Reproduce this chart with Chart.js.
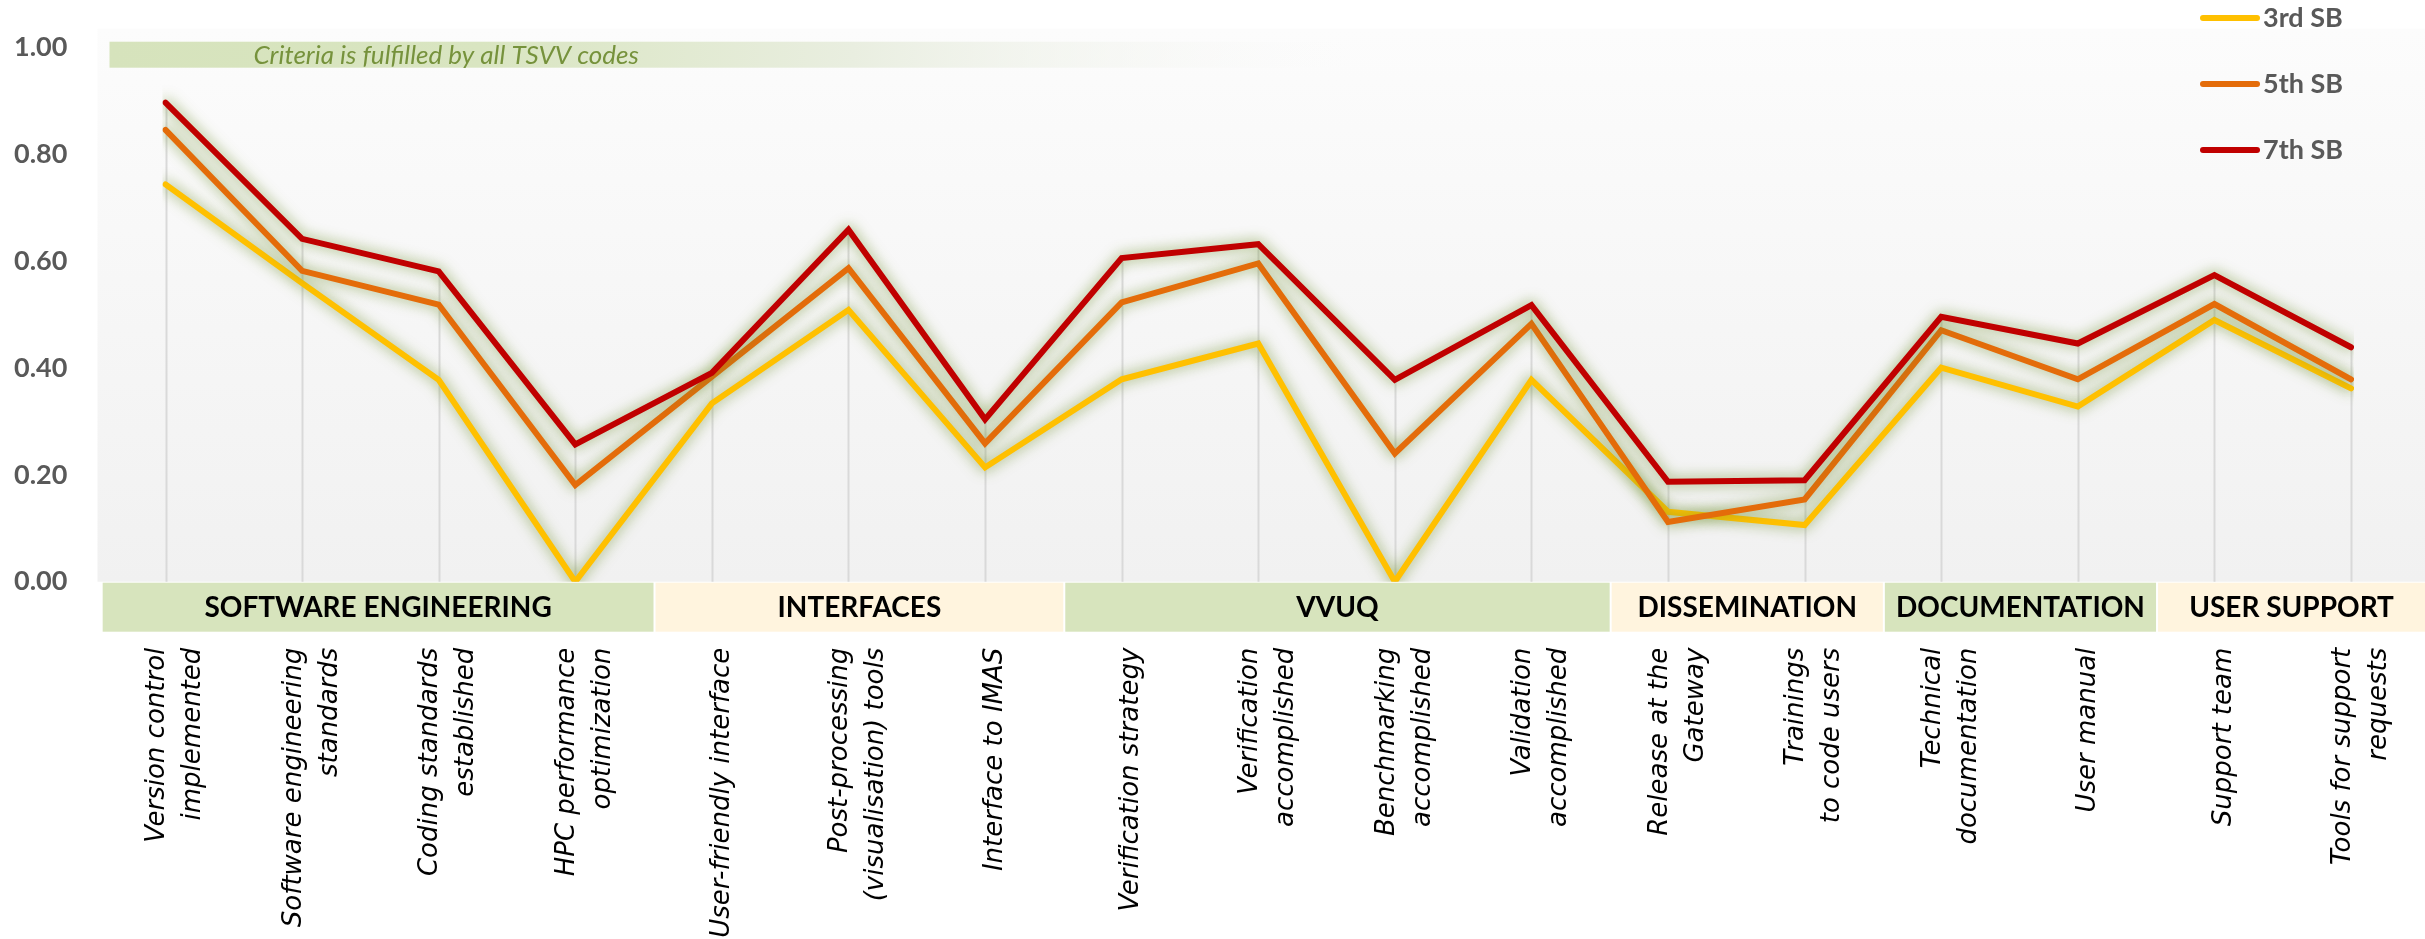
<!DOCTYPE html>
<html><head><meta charset="utf-8">
<script src="https://cdn.jsdelivr.net/npm/chart.js@4.4.1/dist/chart.umd.min.js"></script>
<style>html,body{margin:0;padding:0;background:#fff;}#wrap{width:2425px;height:939px;position:relative;}</style>
</head><body><div id="wrap"><canvas id="c" width="2425" height="939"></canvas></div>
<script>
// ---------- DATA ----------
const categories = [
  ["Version control", "implemented"],
  ["Software engineering", "standards"],
  ["Coding standards", "established"],
  ["HPC performance", "optimization"],
  ["User-friendly interface"],
  ["Post-processing", "(visualisation) tools"],
  ["Interface to IMAS"],
  ["Verification strategy"],
  ["Verification", "accomplished"],
  ["Benchmarking", "accomplished"],
  ["Validation", "accomplished"],
  ["Release at the", "Gateway"],
  ["Trainings", "to code users"],
  ["Technical", "documentation"],
  ["User manual"],
  ["Support team"],
  ["Tools for support", "requests"]
];
const groupNames = ["SOFTWARE ENGINEERING", "INTERFACES", "VVUQ", "DISSEMINATION", "DOCUMENTATION", "USER SUPPORT"];
const groupSizes = [4, 3, 4, 2, 2, 2];
const seriesNames = ["3rd SB", "5th SB", "7th SB"];
const sb3 = [0.744, 0.559, 0.378, 0.000, 0.334, 0.509, 0.214, 0.379, 0.446, 0.000, 0.378, 0.131, 0.106, 0.401, 0.328, 0.490, 0.362];
const sb5 = [0.846, 0.582, 0.519, 0.181, 0.384, 0.587, 0.259, 0.523, 0.596, 0.240, 0.483, 0.112, 0.154, 0.471, 0.379, 0.520, 0.379];
const sb7 = [0.897, 0.642, 0.581, 0.257, 0.391, 0.659, 0.304, 0.606, 0.632, 0.378, 0.518, 0.187, 0.190, 0.496, 0.446, 0.574, 0.439];
const yTickValues = [0, 0.2, 0.4, 0.6, 0.8, 1.0];
const bannerText = "Criteria is fulfilled by all TSVV codes";

// ---------- STYLE ----------
const colors = ["#ffc000", "#e46c0a", "#c00000"];
const bandColors = ["#d7e4bd", "#fff4de"];
const FONT_BOLD = "Lato, 'Liberation Sans', sans-serif";
const FONT_LABEL = "'DejaVu Sans', Verdana, sans-serif";

const bgPlugin = {
  id: 'bg',
  beforeDraw(chart) {
    const {ctx, chartArea: a} = chart;
    ctx.save();
    ctx.fillStyle = '#ffffff';
    ctx.fillRect(0, 0, chart.width, chart.height);
    const top = a.top - 19, left = a.left - 68;
    const g = ctx.createLinearGradient(0, top, 0, a.bottom);
    g.addColorStop(0, '#fcfcfc');
    g.addColorStop(1, '#f1f1f1');
    ctx.fillStyle = g;
    ctx.fillRect(left, top, chart.width - left, a.bottom - top);
    // banner
    const bx = a.left - 56, by = a.top - 6, bw = 1240, bh = 26;
    const bg = ctx.createLinearGradient(bx, 0, bx + bw, 0);
    bg.addColorStop(0, '#d6e3bc');
    bg.addColorStop(0.3, '#d9e5c1');
    bg.addColorStop(0.6, '#e9eee0');
    bg.addColorStop(1, 'rgba(248,248,248,0)');
    ctx.fillStyle = bg;
    ctx.fillRect(bx, by, bw, bh);
    ctx.fillStyle = '#76923c';
    ctx.font = "italic 26px Lato, 'Liberation Sans', sans-serif";
    ctx.textBaseline = 'middle';
    ctx.textAlign = 'left';
    ctx.fillText(bannerText, a.left + 88, by + bh / 2 + 1);
    ctx.restore();
  },
  beforeDatasetsDraw(chart) {
    const {ctx, chartArea: a} = chart;
    const xs = chart.scales.x, ys = chart.scales.y;
    ctx.save();
    ctx.strokeStyle = '#d9d9d9';
    ctx.lineWidth = 2;
    for (let i = 0; i < categories.length; i++) {
      const m = Math.max(sb3[i], sb5[i], sb7[i]);
      const x = Math.round(xs.getPixelForValue(i)) + 0.5;
      ctx.beginPath();
      ctx.moveTo(x, ys.getPixelForValue(m));
      ctx.lineTo(x, a.bottom);
      ctx.stroke();
    }
    ctx.restore();
  },
  beforeDatasetDraw(chart) {
    const ctx = chart.ctx;
    ctx.save();
    ctx.shadowColor = 'rgba(112,145,48,0.8)';
    ctx.shadowBlur = 14;
    ctx.shadowOffsetX = 0;
    ctx.shadowOffsetY = 0;
  },
  afterDatasetDraw(chart) {
    chart.ctx.restore();
  },
  afterDatasetsDraw(chart) {
    const {ctx, chartArea: a} = chart;
    const xs = chart.scales.x;
    ctx.save();
    let start = 0;
    const bandTop = a.bottom + 1, bandH = 49;
    for (let g = 0; g < groupNames.length; g++) {
      const end = start + groupSizes[g] - 1;
      const l = g === 0 ? xs.getPixelForValue(start - 0.46) : xs.getPixelForValue(start - 0.42) + 1;
      const r = g === groupNames.length - 1 ? chart.width : xs.getPixelForValue(end + 0.58) - 1;
      ctx.fillStyle = bandColors[g % 2];
      ctx.fillRect(l, bandTop, r - l, bandH);
      ctx.fillStyle = '#000000';
      ctx.font = "bold 28px " + FONT_BOLD;
      ctx.textAlign = 'center';
      ctx.textBaseline = 'middle';
      ctx.fillText(groupNames[g], (l + r) / 2, bandTop + bandH / 2 + 1);
      start = end + 1;
    }
    ctx.fillStyle = '#000000';
    ctx.font = "italic 26px " + FONT_LABEL;
    ctx.textAlign = 'right';
    ctx.textBaseline = 'middle';
    const lineGap = 36, shift = 10, labelTop = a.bottom + 66;
    categories.forEach((lines, i) => {
      const x0 = xs.getPixelForValue(i);
      const n = lines.length;
      lines.forEach((t, j) => {
        const cx = x0 + shift + (j - (n - 1) / 2) * lineGap;
        ctx.save();
        ctx.translate(cx, labelTop);
        ctx.rotate(-Math.PI / 2);
        ctx.fillText(t, 0, 0);
        ctx.restore();
      });
    });
    ctx.restore();
  },
  afterDraw(chart) {
    const {ctx, chartArea: a} = chart;
    ctx.save();
    const lx = a.right - 148, ly0 = 18, gap = 66;
    seriesNames.forEach((name, k) => {
      const y = ly0 + k * gap;
      ctx.strokeStyle = colors[k];
      ctx.lineWidth = 6;
      ctx.lineCap = 'round';
      ctx.beginPath();
      ctx.moveTo(lx, y);
      ctx.lineTo(lx + 54, y);
      ctx.stroke();
      ctx.fillStyle = '#595959';
      ctx.font = "bold 27px " + FONT_BOLD;
      ctx.textAlign = 'left';
      ctx.textBaseline = 'middle';
      ctx.fillText(name, lx + 60, y);
    });
    ctx.restore();
  }
};

const ds = [sb3, sb5, sb7].map((d, k) => ({
  label: seriesNames[k],
  data: d,
  borderColor: colors[k],
  backgroundColor: colors[k],
  borderWidth: 6,
  pointRadius: 0,
  tension: 0,
  fill: false,
  borderCapStyle: 'round',
  borderJoinStyle: 'miter',
  order: 3 - k
}));

const chart = new Chart(document.getElementById('c'), {
  type: 'line',
  data: { labels: categories.map(c => c.join(' ')), datasets: ds },
  options: {
    responsive: false,
    devicePixelRatio: 1,
    animation: false,
    layout: { padding: { top: 47.7, right: 74, bottom: 0, left: 14 } },
    plugins: { legend: { display: false }, title: { display: false }, tooltip: { enabled: false } },
    scales: {
      x: {
        offset: false,
        grid: { display: false, drawTicks: false },
        border: { display: false },
        ticks: { display: false },
        afterFit(s) { s.height = 357.3; }
      },
      y: {
        min: 0, max: 1,
        grid: { display: false, drawTicks: false },
        border: { display: false },
        afterBuildTicks(s) { s.ticks = yTickValues.map(v => ({ value: v })); },
        afterFit(s) { s.width = 151.5; },
        ticks: {
          padding: 0,
          crossAlign: 'far',
          color: '#595959',
          font: { family: FONT_BOLD, weight: 'bold', size: 27 },
          callback: v => Number(v).toFixed(2)
        }
      }
    }
  },
  plugins: [bgPlugin]
});
</script>
</body></html>
